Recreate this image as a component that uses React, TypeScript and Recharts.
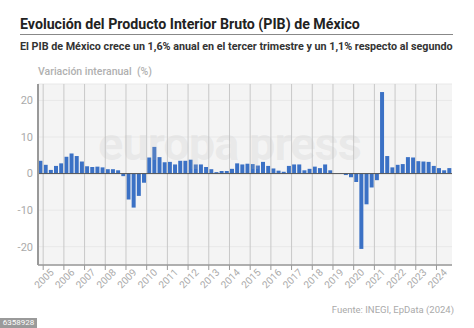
import { Bar, BarChart, CartesianGrid, ReferenceLine, XAxis, YAxis } from 'recharts';

// Variación interanual del PIB (%), trimestral, desde 2004-T4 hasta 2024-T3
const years = ['2005', '2006', '2007', '2008', '2009', '2010', '2011', '2012', '2013', '2014',
  '2015', '2016', '2017', '2018', '2019', '2020', '2021', '2022', '2023', '2024'];
const quarterNames = ['T1', 'T2', 'T3', 'T4'];
const firstPeriod = '2004-T4';
const lastQuarterOfLastYear = 3;

const growth = [
  3.5,
  2.4, 1.0, 2.1, 2.8, // 2005
  4.6, 5.5, 4.8, 3.3, // 2006
  2.0, 1.8, 1.9, 1.7, // 2007
  1.2, 1.2, 0.9, -0.7, // 2008
  -7.1, -9.3, -6.1, -2.5, // 2009
  4.4, 7.3, 4.5, 3.1, // 2010
  3.2, 2.5, 3.5, 3.5, // 2011
  3.8, 2.5, 2.5, 1.8, // 2012
  1.2, 0.4, 0.7, 0.7, // 2013
  1.3, 2.8, 2.5, 2.7, // 2014
  2.6, 2.2, 3.2, 2.1, // 2015
  1.4, 0.8, 0.5, 2.1, // 2016
  2.5, 2.5, 0.9, 1.3, // 2017
  1.9, 1.5, 2.5, 0.9, // 2018
  0.1, -0.1, -0.4, -1.0, // 2019
  -2.3, -20.6, -8.4, -3.8, // 2020
  -1.8, 22.3, 4.8, 1.7, // 2021
  2.4, 2.6, 4.5, 4.4, // 2022
  3.4, 3.3, 3.2, 2.1, // 2023
  1.5, 0.9, 1.5 // 2024
];

const yTicks = [-20, -10, 0, 10, 20];

const periods = [firstPeriod];
years.forEach((y, i) => {
  const n = i === years.length - 1 ? lastQuarterOfLastYear : 4;
  for (let q = 0; q < n; q++) periods.push(`${y}-${quarterNames[q]}`);
});

const data = periods.map((period, i) => ({ period, value: growth[i] }));
const yearStarts = years.map((y) => `${y}-T1`);

const PLOT_W = 414;
const BAND = PLOT_W / periods.length;

const YearTick = ({ x, y, payload }: any) => {
  const start = x - BAND / 2;
  const year = String(payload.value).slice(0, 4);
  return (
    <g>
      <line x1={start} y1={y} x2={start} y2={y + 5} stroke="#999" />
      <text
        x={start + BAND * 2 + 1}
        y={y + 8}
        textAnchor="end"
        fontSize={10}
        fill="#aaa"
        transform={`rotate(-45 ${start + BAND * 2 + 1} ${y + 8})`}
      >
        {year}
      </text>
    </g>
  );
};

const App = () => {
  return (
    <div
      style={{
        position: 'absolute',
        left: 0,
        top: 0,
        width: 474,
        height: 328,
        background: '#fff',
        fontFamily: 'Roboto, sans-serif',
        overflow: 'hidden'
      }}
    >
      <div style={{ position: 'absolute', left: 20, top: 16, fontSize: 14.2, fontWeight: 700, color: '#222' }}>
        Evolución del Producto Interior Bruto (PIB) de México
      </div>
      <div style={{ position: 'absolute', left: 20, top: 34, width: 433, height: 1, background: '#888' }} />
      <div style={{ position: 'absolute', left: 20, top: 40, fontSize: 10.75, fontWeight: 700, color: '#333', whiteSpace: 'nowrap' }}>
        El PIB de México crece un 1,6% anual en el tercer trimestre y un 1,1% respecto al segundo
      </div>
      <div style={{ position: 'absolute', left: 38, top: 65, fontSize: 10.5, fontWeight: 500, color: '#b0b0b0', whiteSpace: 'nowrap' }}>
        Variación interanual&nbsp;&nbsp;(%)
      </div>

      <div style={{ position: 'absolute', left: 0, top: 0 }}>
        <BarChart
          width={474}
          height={328}
          data={data}
          margin={{ top: 84, right: 22, bottom: 33, left: 0 }}
          barCategoryGap={0.5}
        >
          <CartesianGrid vertical={false} stroke="#e8e8e8" fill="#f4f4f4" />
          <XAxis
            dataKey="period"
            ticks={yearStarts}
            interval={0}
            tick={<YearTick />}
            tickLine={false}
            tickSize={0}
            tickMargin={0}
            height={30}
            axisLine={{ stroke: '#999', strokeWidth: 1.5 }}
          />
          <YAxis
            width={38}
            domain={[-25, 24.5]}
            ticks={yTicks}
            tickLine={false}
            tickSize={0}
            tickMargin={5}
            axisLine={{ stroke: '#999', strokeWidth: 2 }}
            tick={{ fontSize: 11, fill: '#aaa' }}
          />
          {yearStarts.map((p) => (
            <ReferenceLine key={p} x={p} position="start" stroke="#c8c8c8" />
          ))}
          <Bar dataKey="value" fill="#3b71c5" isAnimationActive={false} />
          <ReferenceLine y={0} stroke="#555" />
        </BarChart>
      </div>

      <div
        style={{
          position: 'absolute',
          left: 98,
          top: 116,
          fontSize: 47,
          fontWeight: 700,
          color: 'rgba(190,190,190,0.2)',
          letterSpacing: -1,
          pointerEvents: 'none',
          whiteSpace: 'nowrap'
        }}
      >
        europa press
      </div>

      <div style={{ position: 'absolute', right: 20, top: 304, fontSize: 9.5, color: '#aaa' }}>
        Fuente: INEGI, EpData (2024)
      </div>
      <div
        style={{
          position: 'absolute',
          left: 0,
          top: 318,
          width: 37,
          height: 10,
          background: '#9a9a9a',
          color: '#fff',
          fontSize: 8,
          lineHeight: '10px',
          textAlign: 'center'
        }}
      >
        6358928
      </div>
    </div>
  );
};

export default App;
